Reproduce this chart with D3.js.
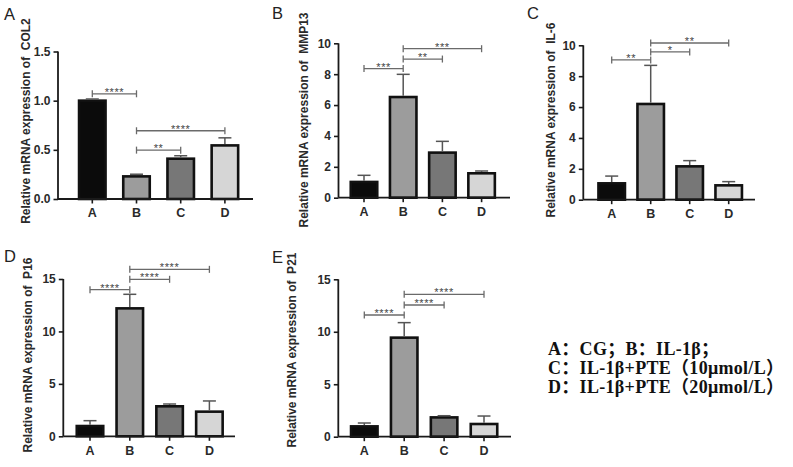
<!DOCTYPE html>
<html><head><meta charset="utf-8">
<script src="https://cdn.jsdelivr.net/npm/d3@7"></script>
<style>
html,body{margin:0;padding:0;background:#fff;}
svg{display:block;}
</style></head>
<body>
<svg id="chart" width="793" height="467"></svg>
<script>
// ---------------- data ----------------
const groups = ["A", "B", "C", "D"];
const barColors = ["#0b0b0b", "#9c9c9c", "#777777", "#d6d6d6"];

const col2Mean = [1.0, 0.23, 0.41, 0.545];
const col2Sd   = [0.017, 0.022, 0.03, 0.077];
const mmp13Mean = [1.02, 6.52, 2.92, 1.58];
const mmp13Sd   = [0.43, 1.47, 0.73, 0.15];
const il6Mean = [1.06, 6.2, 2.16, 0.93];
const il6Sd   = [0.47, 2.5, 0.37, 0.24];
const p16Mean = [0.98, 12.2, 2.86, 2.35];
const p16Sd   = [0.51, 1.34, 0.22, 1.02];
const p21Mean = [0.985, 9.44, 1.84, 1.21];
const p21Sd   = [0.32, 1.43, 0.16, 0.76];

const sigPairs = [["A", "B"], ["B", "C"], ["B", "D"]];
const col2SigLabels = ["****", "**", "****"];
const col2SigLevels = [1.07, 0.497, 0.694];
const mmp13SigLabels = ["***", "**", "***"];
const mmp13SigLevels = [8.36, 8.98, 9.65];
const il6SigLabels = ["**", "*", "**"];
const il6SigLevels = [9.05, 9.57, 10.15];
const p16SigLabels = ["****", "****", "****"];
const p16SigLevels = [13.98, 14.97, 15.92];
const p21SigLabels = ["****", "****", "****"];
const p21SigLevels = [11.6, 12.55, 13.57];

const col2Ticks = [0, 0.5, 1.0, 1.5];
const mmp13Ticks = [0, 2, 4, 6, 8, 10];
const il6Ticks = [0, 2, 4, 6, 8, 10];
const p16Ticks = [0, 5, 10, 15];
const p21Ticks = [0, 5, 10, 15];

const legendLines = [
  "A：CG；B：IL-1β；",
  "C：IL-1β+PTE（10μmol/L）",
  "D：IL-1β+PTE（20μmol/L）"
];

// ---------------- layout ----------------
const SANS = "'Liberation Sans', Arial, sans-serif";
const SERIF = "'Liberation Serif', 'Times New Roman', 'Noto Sans CJK SC', serif";
const panels = [
  {letter: "A", gene: "COL2", mean: col2Mean, sd: col2Sd, ticks: col2Ticks, fmt: ".1f",
   sigL: col2SigLabels, sigY: col2SigLevels,
   ax: 58, axEnd: 253, y0: 199, yTop: 51.5, c0: 92.3, step: 44.2,
   lx: 4, ly: 20, labX: 25.5, labY: 121},
  {letter: "B", gene: "MMP13", mean: mmp13Mean, sd: mmp13Sd, ticks: mmp13Ticks, fmt: "d",
   sigL: mmp13SigLabels, sigY: mmp13SigLevels,
   ax: 338.5, axEnd: 510, y0: 197.7, yTop: 43.3, c0: 364, step: 39.2,
   lx: 272, ly: 19, labX: 304, labY: 120},
  {letter: "C", gene: "IL-6", mean: il6Mean, sd: il6Sd, ticks: il6Ticks, fmt: "d",
   sigL: il6SigLabels, sigY: il6SigLevels,
   ax: 583.3, axEnd: 755, y0: 199.7, yTop: 45.3, c0: 611.7, step: 39,
   lx: 527, ly: 19, labX: 550.5, labY: 120},
  {letter: "D", gene: "P16", mean: p16Mean, sd: p16Sd, ticks: p16Ticks, fmt: "d",
   sigL: p16SigLabels, sigY: p16SigLevels,
   ax: 63.3, axEnd: 235, y0: 436.3, yTop: 279, c0: 90, step: 39.8,
   lx: 4, ly: 262, labX: 27.7, labY: 355},
  {letter: "E", gene: "P21", mean: p21Mean, sd: p21Sd, ticks: p21Ticks, fmt: "d",
   sigL: p21SigLabels, sigY: p21SigLevels,
   ax: 338.3, axEnd: 511, y0: 436.7, yTop: 279.3, c0: 364.3, step: 39.9,
   lx: 272, ly: 263, labX: 291.7, labY: 350}
];

const svg = d3.select("#chart");
const barW = 26.5;

panels.forEach(p => {
  const g = svg.append("g");
  const pad = 1 - barW / p.step;
  const x = d3.scaleBand().domain(groups)
    .range([p.c0 - p.step / 2, p.c0 + 3.5 * p.step])
    .paddingInner(pad).paddingOuter(pad / 2);
  const yMax = p.ticks[p.ticks.length - 1];
  const y = d3.scaleLinear().domain([0, yMax]).range([p.y0, p.yTop]);

  // panel letter
  g.append("text").attr("x", p.lx).attr("y", p.ly).style("font-family", SANS)
    .style("font-size", "16.5px").attr("fill", "#222").text(p.letter);

  // y label
  g.append("text")
    .attr("transform", `translate(${p.labX + 4.3},${p.labY}) rotate(-90)`)
    .attr("text-anchor", "middle")
    .style("font-family", SANS).style("font-size", "12px").style("font-weight", "bold")
    .attr("fill", "#2a2a2a").style("white-space", "pre")
    .text("Relative mRNA expression of  " + p.gene);

  // bars
  g.selectAll("rect.bar").data(groups).join("rect").attr("class", "bar")
    .attr("x", d => x(d)).attr("width", x.bandwidth())
    .attr("y", (d, i) => y(p.mean[i])).attr("height", (d, i) => p.y0 - y(p.mean[i]))
    .attr("fill", (d, i) => barColors[i]).attr("stroke", "#111").attr("stroke-width", 2.6);

  // error bars (upper)
  const cx = d => x(d) + x.bandwidth() / 2;
  g.selectAll("line.err").data(groups).join("line").attr("class", "err")
    .attr("x1", cx).attr("x2", cx)
    .attr("y1", (d, i) => y(p.mean[i]) - 1.3).attr("y2", (d, i) => y(p.mean[i] + p.sd[i]))
    .attr("stroke", "#555").attr("stroke-width", 1.5);
  g.selectAll("line.cap").data(groups).join("line").attr("class", "cap")
    .attr("x1", d => cx(d) - 6.5).attr("x2", d => cx(d) + 6.5)
    .attr("y1", (d, i) => y(p.mean[i] + p.sd[i])).attr("y2", (d, i) => y(p.mean[i] + p.sd[i]))
    .attr("stroke", "#555").attr("stroke-width", 1.5);

  // axes
  const yAxis = d3.axisLeft(y).tickValues(p.ticks).tickFormat(d3.format(p.fmt))
    .tickSize(4.5).tickPadding(3);
  const ya = g.append("g").attr("transform", `translate(${p.ax},0)`).call(yAxis);
  ya.select(".domain").attr("stroke", "#1a1a1a").attr("stroke-width", 1.8)
    .attr("d", `M0,${p.y0}V${p.yTop}`);
  ya.selectAll(".tick line").attr("stroke", "#1a1a1a").attr("stroke-width", 1.6);
  ya.selectAll(".tick text").style("font-size", "12px").style("font-weight", "bold")
    .attr("fill", "#2a2a2a").style("font-family", SANS);

  const xAxis = d3.axisBottom(x).tickSize(4.5).tickPadding(5);
  const xa = g.append("g").attr("transform", `translate(0,${p.y0})`).call(xAxis);
  xa.select(".domain").attr("stroke", "#1a1a1a").attr("stroke-width", 1.8)
    .attr("d", `M${p.ax},0H${p.axEnd}`);
  xa.selectAll(".tick line").attr("stroke", "#1a1a1a").attr("stroke-width", 1.6);
  xa.selectAll(".tick text").style("font-size", "12.5px").style("font-weight", "bold")
    .attr("fill", "#2a2a2a").style("font-family", SANS);

  // significance brackets
  sigPairs.forEach((pair, k) => {
    const x1 = cx(pair[0]), x2 = cx(pair[1]), yy = y(p.sigY[k]);
    const b = g.append("g").attr("stroke", "#6a6a6a").attr("stroke-width", 1.3);
    b.append("line").attr("x1", x1).attr("x2", x2).attr("y1", yy).attr("y2", yy);
    b.append("line").attr("x1", x1).attr("x2", x1).attr("y1", yy - 3.5).attr("y2", yy + 3.5);
    b.append("line").attr("x1", x2).attr("x2", x2).attr("y1", yy - 3.5).attr("y2", yy + 3.5);
    g.append("text").attr("x", (x1 + x2) / 2).attr("y", yy + 2)
      .attr("text-anchor", "middle").style("font-family", SANS).style("font-size", "11px")
      .attr("letter-spacing", 0.6).attr("fill", "#444").text(p.sigL[k]);
  });
});

// legend
svg.append("g").selectAll("text").data(legendLines).join("text")
  .attr("x", 548).attr("y", (d, i) => 355 + i * 19)
  .style("font-family", SERIF).style("font-weight", "bold").style("font-size", "18px")
  .style("letter-spacing", "0.3px")
  .attr("fill", "#111")
  .text(d => d);
</script>
</body></html>
